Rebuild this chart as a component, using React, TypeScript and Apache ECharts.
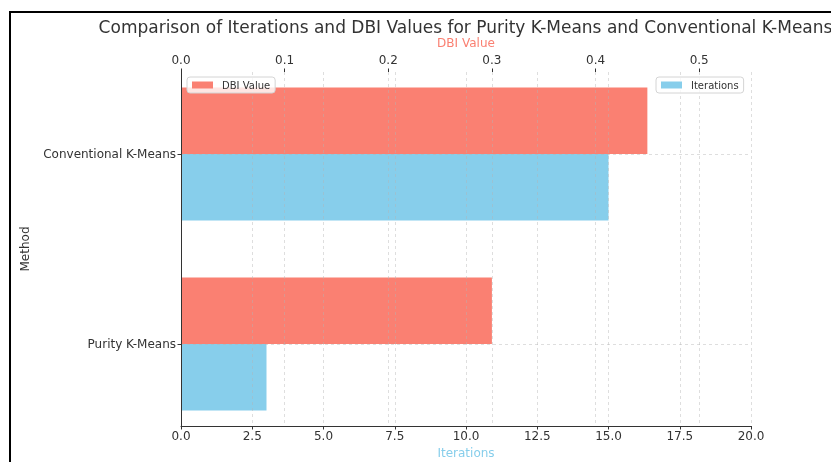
import React, { useEffect, useRef } from 'react';
import * as echarts from 'echarts';

// ---- data ----
const methods = ['Purity K-Means', 'Conventional K-Means'];
const methodPositions = [0, 1];
const iterations = [3, 15];
const dbiValues = [0.3, 0.45];
const iterationTicks = [0, 2.5, 5, 7.5, 10, 12.5, 15, 17.5, 20];
const dbiTicks = [0, 0.1, 0.2, 0.3, 0.4, 0.5];

const TITLE = 'Comparison of Iterations and DBI Values for Purity K-Means and Conventional K-Means';
const SALMON = '#FA8072';
const SKY = '#87CEEB';
const FONT = 'DejaVu Sans';
const BAR_HEIGHT = 0.35;
const TEXT = '#333333';

const gridLine = { show: true, lineStyle: { color: 'rgba(180,180,180,0.55)', width: 0.8, type: [3, 3] as any } };

export default function App() {
  const ref = useRef<HTMLDivElement>(null);
  useEffect(() => {
    if (!ref.current) return;
    const chart = echarts.init(ref.current, null, { renderer: 'svg' });

    const makeRender = (above: boolean, color: string) => (params: any, api: any) => {
      const v = api.value(0);
      const y = api.value(1);
      const p0 = api.coord([0, y]);
      const p1 = api.coord([v, y]);
      const h = api.size([0, BAR_HEIGHT])[1];
      return {
        type: 'rect',
        shape: { x: p0[0], y: above ? p0[1] - h : p0[1], width: p1[0] - p0[0], height: h },
        style: { fill: color },
      };
    };

    const legendCommon = {
      orient: 'horizontal',
      icon: 'rect',
      itemWidth: 21,
      itemHeight: 7,
      padding: [3, 5],
      borderColor: '#d4d4d4',
      borderWidth: 1,
      borderRadius: 3,
      backgroundColor: 'rgba(255,255,255,0.8)',
      textStyle: { fontSize: 10, color: TEXT, fontFamily: FONT, padding: [0, 0, 0, 4] },
    };

    chart.setOption({
      animation: false,
      textStyle: { fontFamily: FONT },
      grid: { left: 181, right: 80, top: 72, bottom: 36, containLabel: false, outerBoundsMode: 'none' },
      graphic: [
        { type: 'line', shape: { x1: 10, y1: 12, x2: 10, y2: 462 }, style: { stroke: '#000', lineWidth: 2 } },
        { type: 'line', shape: { x1: 9, y1: 12, x2: 831, y2: 12 }, style: { stroke: '#000', lineWidth: 2 } },
        {
          type: 'text', x: 465.5, y: 27, z: 10,
          style: { text: TITLE, align: 'center', verticalAlign: 'middle', fill: TEXT, font: `17px "${FONT}"` },
        },
      ],
      legend: [
        { ...legendCommon, data: ['DBI Value'], left: 187, top: 77 },
        { ...legendCommon, data: ['Iterations'], left: 656, top: 77 },
      ],
      xAxis: [
        {
          type: 'value', position: 'bottom', min: 0, max: 20, interval: 2.5,
          name: 'Iterations', nameLocation: 'middle', nameGap: 21,
          nameTextStyle: { color: SKY, fontSize: 12, fontFamily: FONT },
          axisLine: { show: true, onZero: false, lineStyle: { color: TEXT, width: 1 } },
          axisTick: { show: true, length: 3.5, lineStyle: { color: TEXT } },
          axisLabel: { color: TEXT, fontSize: 12, margin: 4, customValues: iterationTicks, formatter: (v: number) => v.toFixed(1) },
          splitLine: gridLine,
        },
        {
          type: 'value', position: 'top', min: 0, max: 0.55, interval: 0.1,
          name: 'DBI Value', nameLocation: 'middle', nameGap: 20,
          nameTextStyle: { color: SALMON, fontSize: 12, fontFamily: FONT },
          axisLine: { show: false, onZero: false },
          axisTick: { show: true, length: 3.5, customValues: dbiTicks, lineStyle: { color: TEXT } },
          axisLabel: { color: TEXT, fontSize: 12, margin: 6, customValues: dbiTicks, formatter: (v: number) => v.toFixed(1) },
          splitLine: gridLine,
        },
      ],
      yAxis: {
        type: 'value', min: -0.432, max: 1.432,
        name: 'Method', nameLocation: 'middle', nameGap: 150, nameRotate: 90,
        nameTextStyle: { color: TEXT, fontSize: 12, fontFamily: FONT },
        axisLine: { show: true, onZero: false, lineStyle: { color: TEXT, width: 1 } },
        axisTick: { show: true, length: 3.5, customValues: methodPositions, lineStyle: { color: TEXT } },
        axisLabel: {
          color: TEXT, fontSize: 12, margin: 5, customValues: methodPositions,
          formatter: (v: number) => methods[Math.round(v)] ?? '',
        },
        splitLine: gridLine,
      },
      series: [
        {
          type: 'custom', name: 'DBI Value', xAxisIndex: 1, yAxisIndex: 0, z: -1,
          itemStyle: { color: SALMON },
          encode: { x: 0, y: 1 },
          data: methods.map((_, i) => [dbiValues[i], methodPositions[i]]),
          renderItem: makeRender(true, SALMON),
        },
        {
          type: 'custom', name: 'Iterations', xAxisIndex: 0, yAxisIndex: 0, z: -1,
          itemStyle: { color: SKY },
          encode: { x: 0, y: 1 },
          data: methods.map((_, i) => [iterations[i], methodPositions[i]]),
          renderItem: makeRender(false, SKY),
        },
      ],
    });
    return () => chart.dispose();
  }, []);
  return <div ref={ref} style={{ position: 'fixed', left: 0, top: 0, width: 831, height: 462 }} />;
}
